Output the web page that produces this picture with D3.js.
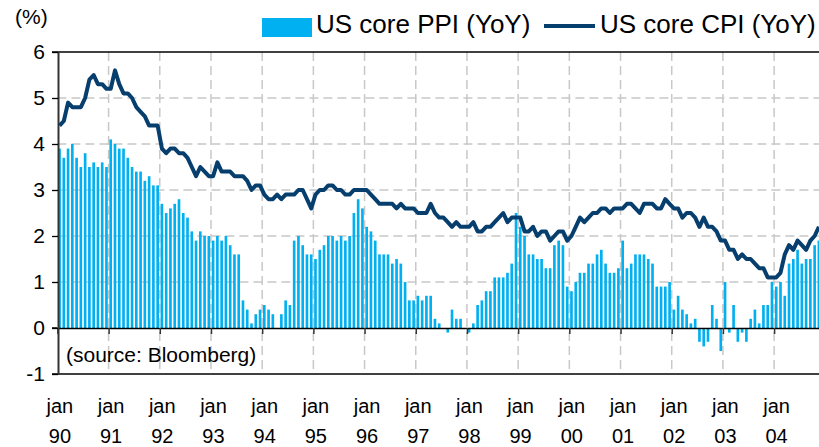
<!DOCTYPE html>
<html>
<head>
<meta charset="utf-8">
<script src="https://cdn.jsdelivr.net/npm/d3@7"></script>
<style>
  body { margin: 0; background: #fff; }
  svg text { font-family: "Liberation Sans", Arial, sans-serif; fill: #000; }
</style>
</head>
<body>
<div id="chart"></div>
<script>
// tick labels
const years = ["90", "91", "92", "93", "94", "95", "96", "97", "98", "99", "00", "01", "02", "03", "04"];
const monthNames = ["jan", "feb", "mar", "apr", "may", "jun", "jul", "aug", "sep", "oct", "nov", "dec"];
const yTicks = [-1, 0, 1, 2, 3, 4, 5, 6];

// US core PPI YoY (%), monthly jan 90 - nov 04
const ppi = [
  3.9, 3.7, 3.9, 4.0, 3.7, 3.5, 3.8, 3.5, 3.6, 3.5, 3.6, 3.5,
  4.1, 4.0, 3.9, 3.9, 3.7, 3.5, 3.4, 3.4, 3.2, 3.3, 3.1, 3.1,
  2.7, 2.5, 2.6, 2.7, 2.8, 2.5, 2.4, 2.1, 1.9, 2.1, 2.0, 2.0,
  1.9, 2.0, 1.9, 2.0, 1.8, 1.6, 1.6, 0.6, 0.4, 0.1, 0.3, 0.4,
  0.5, 0.4, 0.3, 0.0, 0.3, 0.6, 0.5, 1.9, 2.0, 1.8, 1.6, 1.6,
  1.5, 1.7, 1.8, 2.0, 2.0, 1.9, 2.0, 1.9, 2.0, 2.5, 2.8, 2.6,
  2.2, 2.1, 1.9, 1.6, 1.6, 1.6, 1.4, 1.5, 1.4, 1.0, 0.6, 0.6,
  0.7, 0.6, 0.7, 0.7, 0.2, 0.1, 0.0, -0.1, 0.4, 0.2, 0.2, 0.0,
  -0.1, 0.1, 0.5, 0.6, 0.8, 0.8, 1.1, 1.1, 1.1, 1.2, 1.4, 2.5,
  2.2, 2.0, 1.6, 1.6, 1.5, 1.5, 1.3, 1.3, 1.8, 1.9, 1.8, 0.9,
  0.8, 1.0, 1.2, 1.2, 1.4, 1.4, 1.6, 1.7, 1.4, 1.2, 1.2, 1.3,
  1.9, 1.3, 1.4, 1.6, 1.6, 1.6, 1.5, 1.4, 0.9, 0.9, 0.9, 1.0,
  0.4, 0.7, 0.4, 0.3, 0.1, 0.2, -0.3, -0.4, -0.3, 0.5, 0.2, -0.5,
  1.0, -0.1, 0.5, -0.3, -0.1, -0.3, 0.2, 0.4, 0.1, 0.5, 0.5, 1.0,
  0.9, 1.0, 0.7, 1.4, 1.5, 1.7, 1.4, 1.5, 1.5, 1.8, 1.9
];

// US core CPI YoY (%), monthly jan 90 - nov 04
const cpi = [
  4.4, 4.5, 4.9, 4.8, 4.8, 4.8, 5.0, 5.4, 5.5, 5.3, 5.3, 5.2,
  5.2, 5.6, 5.3, 5.1, 5.1, 5.0, 4.8, 4.7, 4.6, 4.4, 4.4, 4.4,
  3.9, 3.8, 3.9, 3.9, 3.8, 3.8, 3.7, 3.5, 3.3, 3.5, 3.4, 3.3,
  3.3, 3.6, 3.4, 3.4, 3.4, 3.3, 3.3, 3.3, 3.2, 3.0, 3.1, 3.1,
  2.9, 2.8, 2.8, 2.9, 2.8, 2.9, 2.9, 2.9, 3.0, 3.0, 2.8, 2.6,
  2.9, 3.0, 3.0, 3.1, 3.1, 3.0, 3.0, 2.9, 2.9, 3.0, 3.0, 3.0,
  3.0, 2.9, 2.8, 2.7, 2.7, 2.7, 2.7, 2.6, 2.7, 2.6, 2.6, 2.6,
  2.5, 2.5, 2.5, 2.7, 2.5, 2.4, 2.4, 2.3, 2.2, 2.3, 2.2, 2.2,
  2.2, 2.3, 2.1, 2.1, 2.2, 2.2, 2.3, 2.4, 2.5, 2.3, 2.4, 2.4,
  2.4, 2.1, 2.1, 2.2, 2.0, 2.1, 2.1, 1.9, 2.0, 2.1, 2.1, 1.9,
  2.0, 2.2, 2.4, 2.3, 2.4, 2.5, 2.5, 2.6, 2.6, 2.5, 2.6, 2.6,
  2.6, 2.7, 2.7, 2.6, 2.5, 2.7, 2.7, 2.7, 2.6, 2.6, 2.8, 2.7,
  2.6, 2.6, 2.4, 2.5, 2.5, 2.4, 2.2, 2.4, 2.2, 2.2, 2.1, 1.9,
  1.9, 1.7, 1.7, 1.5, 1.6, 1.5, 1.5, 1.4, 1.3, 1.3, 1.1, 1.1,
  1.1, 1.2, 1.6, 1.8, 1.7, 1.9, 1.8, 1.7, 1.9, 2.0, 2.2
];

// one category per month, jan 90 - dec 04
const months = years.flatMap(function (yr) {
  return monthNames.map(function (m) { return m + " " + yr; });
});

const width = 819;
const height = 447;
const left = 57.4;
const right = 825.3; // plot runs a little past the window edge

const svg = d3.select("#chart")
  .append("svg")
  .attr("width", width)
  .attr("height", height);

const x = d3.scaleBand()
  .domain(months)
  .range([left, right])
  .paddingInner(0.38)
  .paddingOuter(0.19);

const xYear = d3.scaleLinear()
  .domain([0, years.length])
  .range([left, right]);

const y = d3.scaleLinear()
  .domain([-1, 6])
  .range([374, 52]);

//gridlines
svg.append("g")
  .selectAll("line")
  .data([1, 2, 3, 4, 5])
  .enter()
  .append("line")
  .attr("x1", left)
  .attr("x2", width)
  .attr("y1", function (d) { return y(d); })
  .attr("y2", function (d) { return y(d); })
  .attr("stroke", "#c8c8c8")
  .attr("stroke-width", 1.5)
  .attr("stroke-dasharray", "9,5");

svg.append("g")
  .selectAll("line")
  .data(d3.range(1, years.length))
  .enter()
  .append("line")
  .attr("x1", function (d) { return xYear(d); })
  .attr("x2", function (d) { return xYear(d); })
  .attr("y1", y(6))
  .attr("y2", y(-1))
  .attr("stroke", "#c8c8c8")
  .attr("stroke-width", 1.5)
  .attr("stroke-dasharray", "9,5");

//ppi bars
svg.append("g")
  .selectAll("rect")
  .data(ppi)
  .enter()
  .append("rect")
  .attr("x", function (d, i) { return x(months[i]); })
  .attr("width", x.bandwidth())
  .attr("y", function (d) { return y(Math.max(0, d)); })
  .attr("height", function (d) { return Math.abs(y(d) - y(0)); })
  .attr("fill", "#00b0f0");

//frame lines
[6, -1].forEach(function (v) {
  svg.append("line")
    .attr("x1", 52)
    .attr("x2", width)
    .attr("y1", y(v))
    .attr("y2", y(v))
    .attr("stroke", "#000")
    .attr("stroke-width", 1.3);
});

//x ticks on the zero line
const xAxis = svg.append("g")
  .attr("transform", "translate(0," + y(0) + ")")
  .call(d3.axisBottom(xYear)
    .tickValues(d3.range(0, years.length))
    .tickSize(6)
    .tickSizeOuter(0)
    .tickFormat(""));
xAxis.select(".domain").attr("stroke", "#000").attr("stroke-width", 1.5);
xAxis.selectAll(".tick line").attr("stroke", "#333").attr("stroke-width", 1.5);
svg.append("line")
  .attr("x1", 52)
  .attr("x2", left)
  .attr("y1", y(0))
  .attr("y2", y(0))
  .attr("stroke", "#000")
  .attr("stroke-width", 1.5);

//y axis
const yAxis = svg.append("g")
  .attr("transform", "translate(" + (left + 0.6) + ",0)")
  .call(d3.axisLeft(y)
    .tickValues(yTicks)
    .tickSize(6)
    .tickSizeOuter(0)
    .tickPadding(7)
    .tickFormat(function (d) { return String(d); }));
yAxis.select(".domain").attr("stroke", "#333").attr("stroke-width", 2);
yAxis.selectAll(".tick line").attr("stroke", "#000").attr("stroke-width", 1.3);
yAxis.selectAll("text")
  .style("font-size", "21px")
  .style("font-family", "'Liberation Sans', Arial, sans-serif")
  .attr("fill", "#000");

//cpi line
const line = d3.line()
  .x(function (d, i) { return x(months[i]) + x.bandwidth() / 2; })
  .y(function (d) { return y(d); });

svg.append("path")
  .datum(cpi)
  .attr("d", line)
  .attr("fill", "none")
  .attr("stroke", "#063e6e")
  .attr("stroke-width", 4)
  .attr("stroke-linejoin", "round");

//x labels
const xLabels = svg.append("g")
  .selectAll("text")
  .data(years)
  .enter()
  .append("text")
  .attr("text-anchor", "middle")
  .style("font-size", "20px");
xLabels.append("tspan")
  .attr("x", function (d, i) { return xYear(i) + 2.5; })
  .attr("y", 413)
  .text("jan");
xLabels.append("tspan")
  .attr("x", function (d, i) { return xYear(i) + 2.5; })
  .attr("y", 443)
  .text(function (d) { return d; });

svg.append("text")
  .attr("x", 15)
  .attr("y", 24)
  .style("font-size", "21px")
  .text("(%)");

svg.append("text")
  .attr("x", 66)
  .attr("y", 362)
  .style("font-size", "21px")
  .text("(source: Bloomberg)");

//legend
svg.append("rect")
  .attr("x", 262)
  .attr("y", 18)
  .attr("width", 50)
  .attr("height", 19)
  .attr("fill", "#00b0f0");
svg.append("text")
  .attr("x", 316)
  .attr("y", 33)
  .style("font-size", "26px")
  .text("US core PPI (YoY)");
svg.append("line")
  .attr("x1", 544)
  .attr("x2", 595)
  .attr("y1", 26)
  .attr("y2", 26)
  .attr("stroke", "#063e6e")
  .attr("stroke-width", 4);
svg.append("text")
  .attr("x", 600)
  .attr("y", 33)
  .style("font-size", "26px")
  .text("US core CPI (YoY)");
</script>
</body>
</html>
